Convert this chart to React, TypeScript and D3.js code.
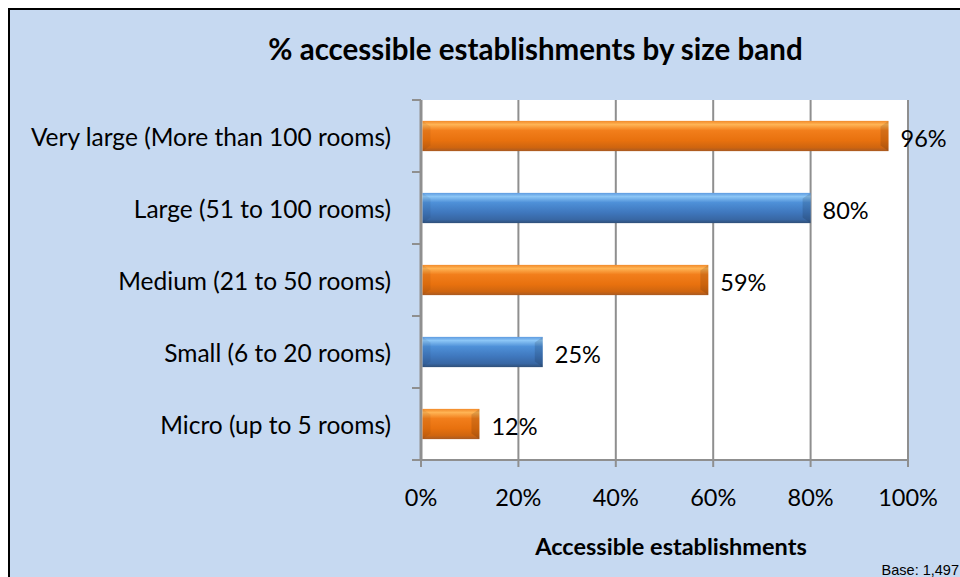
import React from "react";
import * as d3 from "d3";

const categories = [
  "Very large (More than 100 rooms)",
  "Large (51 to 100 rooms)",
  "Medium (21 to 50 rooms)",
  "Small (6 to 20 rooms)",
  "Micro (up to 5 rooms)",
];
const values = [96, 80, 59, 25, 12];
const barColorKeys = ["orange", "blue", "orange", "blue", "orange"];
const xTicks = [0, 20, 40, 60, 80, 100];
const title = "% accessible establishments by size band";
const xTitle = "Accessible establishments";
const baseNote = "Base: 1,497";

const W = 960;
const H = 577;
const plot = { left: 421, right: 908, top: 100, bottom: 460 };
const FONT = "Lato, 'Open Sans', sans-serif";

export default function App() {
  const x = d3.scaleLinear().domain([0, 100]).range([plot.left, plot.right]);
  const y = d3
    .scaleBand<string>()
    .domain(categories)
    .range([plot.top, plot.bottom])
    .paddingInner(0.58)
    .paddingOuter(0.29);
  const step = y.step();
  const boundaries = d3.range(categories.length + 1).map((i) => plot.top + i * step);
  const grid = "#8f8f8f";

  return (
    <svg
      width={W}
      height={H}
      style={{ position: "absolute", left: 0, top: 0, display: "block" }}
      fontFamily={FONT}
    >
      <defs>
        <linearGradient id="g-orange" x1="0" y1="0" x2="0" y2="1">
          <stop offset="0" stopColor="#F28A2A" />
          <stop offset="0.12" stopColor="#FFB454" />
          <stop offset="0.32" stopColor="#F27E1B" />
          <stop offset="0.65" stopColor="#E8710E" />
          <stop offset="0.88" stopColor="#CF650F" />
          <stop offset="1" stopColor="#A95A22" />
        </linearGradient>
        <linearGradient id="g-blue" x1="0" y1="0" x2="0" y2="1">
          <stop offset="0" stopColor="#5E9BE0" />
          <stop offset="0.12" stopColor="#8CC6F6" />
          <stop offset="0.32" stopColor="#4E90D8" />
          <stop offset="0.65" stopColor="#3F77BD" />
          <stop offset="0.88" stopColor="#3867A4" />
          <stop offset="1" stopColor="#2F4F78" />
        </linearGradient>
      </defs>
      <rect x={0} y={0} width={W} height={H} fill="#ffffff" />
      <rect x={9} y={9} width={W + 20} height={H + 20} fill="#C6D9F1" stroke="#000" strokeWidth={2} />
      <rect
        x={plot.left}
        y={plot.top}
        width={plot.right - plot.left}
        height={plot.bottom - plot.top}
        fill="#ffffff"
      />
      {xTicks.map((t) => (
        <line key={"g" + t} x1={x(t)} x2={x(t)} y1={plot.top} y2={plot.bottom + 7} stroke={grid} strokeWidth={2} />
      ))}
      <line x1={plot.left} x2={plot.left} y1={plot.top} y2={plot.bottom} stroke={grid} strokeWidth={3} />
      <line x1={plot.left - 9} x2={plot.right} y1={plot.bottom} y2={plot.bottom} stroke={grid} strokeWidth={2} />
      {boundaries.map((b, i) => (
        <line key={"t" + i} x1={plot.left - 9} x2={plot.left} y1={b} y2={b} stroke={grid} strokeWidth={2} />
      ))}
      {categories.map((c, i) => {
        const y0 = y(c)!;
        const h = y.bandwidth();
        const x0 = x(0) + 1.5;
        const x1 = x(values[i]);
        const bv = 8;
        const cy = y0 + h / 2;
        return (
          <g key={c}>
            <rect x={x0} y={y0} width={x1 - x0} height={h} fill={`url(#g-${barColorKeys[i]})`} />
            <polygon
              points={`${x1 - bv},${y0 + bv * 0.7} ${x1},${y0} ${x1},${y0 + h} ${x1 - bv},${y0 + h - bv * 0.7}`}
              fill="rgba(0,0,0,0.12)"
            />
            <polygon
              points={`${x0},${y0} ${x0 + bv},${y0 + bv * 0.7} ${x0 + bv},${y0 + h - bv * 0.7} ${x0},${y0 + h}`}
              fill="rgba(0,0,0,0.06)"
            />
            <text x={x1 + 12} y={cy + 11} fontSize={23.5} fill="#000">
              {values[i]}%
            </text>
            <text x={391} y={cy + 10} textAnchor="end" fontSize={24.5} fill="#000">
              {c}
            </text>
          </g>
        );
      })}
      {xTicks.map((t) => (
        <text key={"l" + t} x={x(t)} y={506} textAnchor="middle" fontSize={23.5} fill="#000">
          {t}%
        </text>
      ))}
      <text x={535.5} y={60} textAnchor="middle" fontSize={29.5} fontWeight="bold" fill="#000">
        {title}
      </text>
      <text x={671} y={555} textAnchor="middle" fontSize={23.5} fontWeight="bold" fill="#000">
        {xTitle}
      </text>
      <text x={959} y={575} textAnchor="end" fontSize={14.5} fontFamily="'Liberation Sans', Arial, sans-serif" fill="#000">
        {baseNote}
      </text>
    </svg>
  );
}
